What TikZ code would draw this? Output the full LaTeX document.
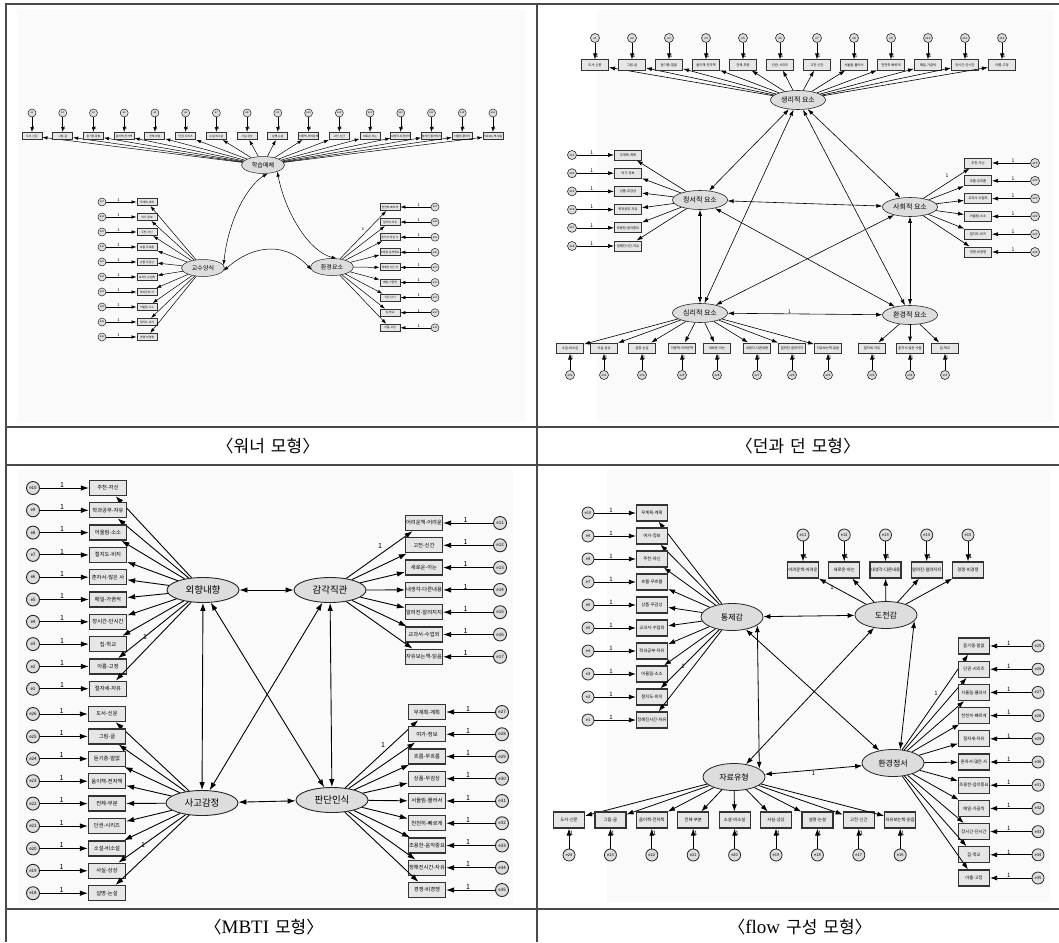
\documentclass[tikz,border=0pt]{standalone}
\usepackage{fontspec}
\setmainfont{Noto Sans CJK KR}
\newfontfamily\capserif{Liberation Serif}
\usetikzlibrary{shapes.geometric, arrows.meta, positioning}
\definecolor{FrameGray}{HTML}{4A4A4A}
\definecolor{LatFill}{HTML}{DDDDDD}
\definecolor{ObsFill}{HTML}{E6E6E6}
\definecolor{PanelBg}{HTML}{FAFAFA}
\tikzset{
  % Node styles
  latent/.style={ellipse, draw=black!85, fill=LatFill, inner sep=0pt},
  observed/.style={rectangle, draw=black!80, fill=ObsFill, inner sep=0.4pt},
  errnode/.style={circle, draw=black!85, fill=LatFill, inner sep=0pt},
  one/.style={inner sep=0.4pt},
  % Arrow styles
  loading/.style={->},
  covar/.style={<->},
  % Table styles
  tableline/.style={FrameGray, line width=1.2pt},
  captext/.style={font=\fontsize{17}{17}\selectfont, inner sep=0pt}
}

\begin{document}
\begin{tikzpicture}[x=1pt, y=-1pt]
  \useasboundingbox (0,0) rectangle (1059,942);

  % Panel backgrounds
  \fill[PanelBg] (18,10) rectangle (525,422);
  \fill[PanelBg] (597,10) rectangle (1053,422);
  \fill[PanelBg] (18,470) rectangle (513,905);
  \fill[PanelBg] (607,470) rectangle (1050,903);

  % Table frame
  \draw[tableline] (6,942) -- (6,4) -- (1059,4);
  \draw[tableline] (537,4) -- (537,942);
  \foreach \ty in {427,465,909} \draw[tableline] (6,\ty) -- (1059,\ty);

  % Captions
  \node[captext] (capwin) at (268,446) {〈워너\hspace{0.35em}모형〉};
  \node[captext] (capdunn) at (798,446) {〈던과\hspace{0.35em}던\hspace{0.35em}모형〉};
  \node[captext] (capmbti) at (264,927) {〈{\capserif\fontsize{19}{19}\selectfont MBTI}\hspace{0.35em}모형〉};
  \node[captext] (capflow) at (800,927) {〈{\capserif\fontsize{19}{19}\selectfont flow}\hspace{0.35em}구성\hspace{0.35em}모형〉};

  % ---------- Winner model ----------
  \begin{scope}[>={Latex[length=5pt,width=3.4pt]}, line width=0.5pt,
      latent/.append style={minimum width=43pt, minimum height=17pt, font=\fontsize{6}{6}\selectfont},
      observed/.append style={minimum width=20pt, minimum height=7pt, line width=0.9pt, font=\fontsize{2.8}{3}\selectfont},
      errnode/.append style={minimum size=8pt, font=\fontsize{2.5}{3}\selectfont},
      one/.append style={font=\fontsize{4}{4}\selectfont}]
    \node[latent] (med) at (263,165) {학습매체};
    \node[latent] (tea) at (203,268) {교수양식};
    \node[latent] (env) at (332,267) {환경요소};

    \foreach \lab [count=\i] in {도서-신문, 그림-글, 듣기중-말없, 움이책-전자책, 전체-부분, 단권-시리즈, 소설-비소설, 사실-상상, 설명-논설, 이중책-어려운책, 고전-신간, 새로운-아는, 내생각-다른생각, 알려진-알려지지, 서둘림-물러서, 자유보는책-읽음} {
      \node[observed] (wt\i) at ({32+30.73*(\i-1)},136) {\lab};
      \node[errnode] (wte\i) at ({32+30.73*(\i-1)},113) {e\i};
      \draw[loading] (wte\i) -- node[one, right, pos=0.7] {1} (wt\i);
      \draw[loading] (med) -- (wt\i);
    }
    \foreach \lab [count=\i] in {무계획-계획, 여가-정보, 주천-자신, 흐름-무흐름, 상품-무감상, 교과서-수업외, 학과공부-자, 어울림-소소, 절지도-비지, 경쟁-비경쟁} {
      \pgfmathtruncatemacro{\k}{16+\i}
      \node[observed] (wl\i) at (147,{202+15*(\i-1)}) {\lab};
      \node[errnode] (wle\i) at (102,{202+15*(\i-1)}) {e\k};
      \draw[loading] (wle\i) -- node[one, above, pos=0.4] {1} (wl\i);
      \draw[loading] (tea) -- (wl\i);
    }
    \foreach \lab [count=\i] in {천천히-빠르게, 절자세-자유, 혼자서-많은 사, 조용한-음악중요, 정해진시간-자, 매일-가끔씩, 시간-단시, 집-학교, 아름-고정} {
      \pgfmathtruncatemacro{\k}{26+\i}
      \node[observed] (wr\i) at (390,{207+15.1*(\i-1)}) {\lab};
      \node[errnode] (wre\i) at (435,{207+15.1*(\i-1)}) {e\k};
      \draw[loading] (wre\i) -- node[one, above, pos=0.4] {1} (wr\i);
      \draw[loading] (env) -- (wr\i);
    }
    \node[one] at (363,229) {1};

    % curved covariances
    \draw[covar] (tea.8) .. controls (229,215) and (250,184) .. (med.-62);
    \draw[covar] (med.-25) .. controls (286,215) and (310,252) .. (env.62);
    \draw[covar] (tea.-8) .. controls (255,243) and (287,243) .. (env.188);
  \end{scope}

  % ---------- Dunn and Dunn model ----------
  \begin{scope}[>={Latex[length=6pt,width=4pt]}, line width=0.6pt,
      latent/.append style={minimum width=55pt, minimum height=19pt, font=\fontsize{7}{7}\selectfont},
      observed/.append style={minimum width=27pt, minimum height=10pt, line width=1pt, font=\fontsize{3.3}{4}\selectfont},
      errnode/.append style={minimum size=9pt, font=\fontsize{3}{3}\selectfont},
      one/.append style={font=\fontsize{5}{5}\selectfont}]
    \node[latent] (phy) at (798,100) {생리적 요소};
    \node[latent] (emo) at (700,200) {정서적 요소};
    \node[latent] (soc) at (910,207) {사회적 요소};
    \node[latent] (psy) at (700,313) {심리적 요소};
    \node[latent] (envd) at (910,315) {환경적 요소};

    \foreach \lab [count=\i] in {도서-신문, 그림-글, 듣기중-말없, 움이책-전자책, 전체-부분, 단권-시리즈, 고전-신간, 서둘림-물러서, 천천히-빠르게, 매일-가끔씩, 장시간-단시간, 아름-고정} {
      \node[observed] (dt\i) at ({595+37.0*(\i-1)},65) {\lab};
      \node[errnode] (dte\i) at ({595+37.0*(\i-1)},38) {e\i};
      \draw[loading] (dte\i) -- node[one, right, pos=0.75] {1} (dt\i);
      \draw[loading] (phy) -- (dt\i);
    }
    \foreach \lab [count=\i] in {무계획-계획, 여가-정보, 상품-무감상, 학과공부-자유, 조용한-음악중요, 정해진시간-자유} {
      \pgfmathtruncatemacro{\k}{12+\i}
      \node[observed] (dl\i) at (628,{155+18.2*(\i-1)}) {\lab};
      \node[errnode] (dle\i) at (572,{155+18.2*(\i-1)}) {e\k};
      \draw[loading] (dle\i) -- node[one, above, pos=0.4] {1} (dl\i);
      \draw[loading] (emo) -- (dl\i);
    }
    \foreach \lab [count=\i] in {주천-자신, 흐름-무흐름, 교과서-수업외, 어울림-소소, 절지도-비지, 경쟁-비경쟁} {
      \pgfmathtruncatemacro{\k}{18+\i}
      \node[observed] (dr\i) at (978,{163+17.8*(\i-1)}) {\lab};
      \node[errnode] (dre\i) at (1035,{163+17.8*(\i-1)}) {e\k};
      \draw[loading] (dre\i) -- node[one, above, pos=0.45] {1} (dr\i);
      \draw[loading] (soc) -- (dr\i);
    }
    \foreach \px/\lab [count=\i] in {570/소설-비소설, 604/사실-상상, 642/설명-논설, 682/이중책-어려운책, 717/새로운-아는, 757/내생각-다른내용, 792/알려진-알려지지, 828/자유보는책-읽음} {
      \pgfmathtruncatemacro{\k}{33-\i}
      \node[observed] (db\i) at (\px,348) {\lab};
      \node[errnode] (dbe\i) at (\px,375) {e\k};
      \draw[loading] (dbe\i) -- node[one, right, pos=0.75] {1} (db\i);
      \draw[loading] (psy) -- (db\i);
    }
    \foreach \px/\lab [count=\i] in {872/절자세-자유, 910/혼자서-많은 사람, 945/집-학교} {
      \pgfmathtruncatemacro{\k}{36-\i}
      \node[observed] (dv\i) at (\px,348) {\lab};
      \node[errnode] (dve\i) at (\px,375) {e\k};
      \draw[loading] (dve\i) -- node[one, right, pos=0.75] {1} (dv\i);
      \draw[loading] (envd) -- (dv\i);
    }
    \node[one] at (947,176) {1};

    % covariances
    \draw[covar] (phy) -- (emo);
    \draw[covar] (phy) -- (psy);
    \draw[covar] (phy) -- (soc);
    \draw[covar] (phy) -- (envd);
    \draw[covar] (emo) -- (soc);
    \draw[covar] (emo) -- (psy);
    \draw[covar] (emo) -- (envd);
    \draw[covar] (soc) -- (psy);
    \draw[covar] (soc) -- (envd);
    \draw[covar] (psy) -- node[one, above, pos=0.4] {1} (envd);
  \end{scope}

  % ---------- MBTI model ----------
  \begin{scope}[>={Latex[length=8pt,width=5.5pt]}, line width=0.9pt,
      latent/.append style={minimum width=72pt, minimum height=25pt, font=\fontsize{9.5}{10}\selectfont},
      observed/.append style={minimum width=37pt, minimum height=15pt, line width=1.3pt, font=\fontsize{5.3}{6}\selectfont},
      errnode/.append style={minimum size=13pt, line width=0.9pt, font=\fontsize{4.5}{5}\selectfont},
      one/.append style={font=\fontsize{7}{7}\selectfont}]
    \node[latent] (ei) at (203,590) {외향내향};
    \node[latent] (sn) at (330,590) {감각직관};
    \node[latent] (tf) at (202,803) {사고감정};
    \node[latent] (jp) at (332,800) {판단인식};

    \foreach \lab [count=\i] in {주천-자신, 학과공부-자유, 어울림-소소, 절지도-비지, 혼자서-많은 사, 매일-가끔씩, 장시간-단시간, 집-학교, 아름-고정, 절자세-자유} {
      \pgfmathtruncatemacro{\k}{11-\i}
      \node[observed] (ml\i) at (108,{488+22.3*(\i-1)}) {\lab};
      \node[errnode] (mle\i) at (33,{488+22.3*(\i-1)}) {e\k};
      \draw[loading] (mle\i) -- node[one, above, pos=0.45] {1} (ml\i);
      \draw[loading] (ei) -- (ml\i);
    }
    \foreach \lab [count=\i] in {도서-신문, 그림-글, 듣기중-말없, 움이책-전자책, 전체-부분, 단권-시리즈, 소설-비소설, 사실-상상, 설명-논설} {
      \pgfmathtruncatemacro{\k}{27-\i}
      \node[observed] (mb\i) at (107,{714+22.4*(\i-1)}) {\lab};
      \node[errnode] (mbe\i) at (33,{714+22.4*(\i-1)}) {e\k};
      \draw[loading] (mbe\i) -- node[one, above, pos=0.45] {1} (mb\i);
      \draw[loading] (tf) -- (mb\i);
    }
    \foreach \lab [count=\i] in {어려운책-어려운, 고전-신간, 새로운-아는, 내생각-다른내용, 알려진-알려지지, 교과서-수업외, 자유보는책-읽음} {
      \pgfmathtruncatemacro{\k}{10+\i}
      \node[observed] (mr\i) at (424,{523+22.3*(\i-1)}) {\lab};
      \node[errnode] (mre\i) at (500,{523+22.3*(\i-1)}) {e\k};
      \draw[loading] (mre\i) -- node[one, above, pos=0.55] {1} (mr\i);
      \draw[loading] (sn) -- (mr\i);
    }
    \foreach \lab [count=\i] in {무계획-계획, 여가-정보, 흐름-무흐름, 상품-무감상, 서둘림-물러서, 천천히-빠르게, 조용한-음악중요, 정해진시간-자유, 경쟁-비경쟁} {
      \pgfmathtruncatemacro{\k}{26+\i}
      \node[observed] (mj\i) at (427,{712+22.25*(\i-1)}) {\lab};
      \node[errnode] (mje\i) at (502,{712+22.25*(\i-1)}) {e\k};
      \draw[loading] (mje\i) -- node[one, above, pos=0.55] {1} (mj\i);
      \draw[loading] (jp) -- (mj\i);
    }
    \node[one] at (380,546) {1};
    \node[one] at (383,745) {1};
    \node[one] at (145,637) {1};
    \node[one] at (143,845) {1};

    % covariances
    \draw[covar] (ei) -- (sn);
    \draw[covar] (ei) -- (tf);
    \draw[covar] (ei) -- (jp);
    \draw[covar] (sn) -- (tf);
    \draw[covar] (sn) -- (jp);
    \draw[covar] (tf) -- (jp);
  \end{scope}

  % ---------- flow model ----------
  \begin{scope}[>={Latex[length=7pt,width=5pt]}, line width=0.8pt,
      latent/.append style={minimum width=62pt, minimum height=27pt, font=\fontsize{8}{8}\selectfont},
      observed/.append style={minimum width=31pt, minimum height=16pt, line width=1.2pt, font=\fontsize{4.3}{5}\selectfont},
      errnode/.append style={minimum size=12pt, line width=0.8pt, font=\fontsize{4}{4}\selectfont},
      one/.append style={font=\fontsize{6}{6}\selectfont}]
    \node[latent] (ctrl) at (732,617) {통제감};
    \node[latent] (chal) at (886,615) {도전감};
    \node[latent] (data) at (734,777) {자료유형};
    \node[latent] (mood) at (893,763) {환경정서};

    \foreach \lab [count=\i] in {무계획-계획, 여가-정보, 주천-자신, 흐름-무흐름, 상품-무감상, 교과서-수업외, 학과공부-자유, 어울림-소소, 절지도-비지, 정해진시간-자유} {
      \pgfmathtruncatemacro{\k}{11-\i}
      \node[observed] (fl\i) at (652,{513+23*(\i-1)}) {\lab};
      \node[errnode] (fle\i) at (588,{513+23*(\i-1)}) {e\k};
      \draw[loading] (fle\i) -- node[one, above, pos=0.4] {1} (fl\i);
      \draw[loading] (ctrl) -- (fl\i);
    }
    \foreach \lab [count=\i] in {어려운책-어려운, 새로운-아는, 내생각-다른내용, 알려진-알려지지, 경쟁-비경쟁} {
      \pgfmathtruncatemacro{\k}{10+\i}
      \node[observed] (ft\i) at ({803+41.25*(\i-1)},570) {\lab};
      \node[errnode] (fte\i) at ({803+41.25*(\i-1)},535) {e\k};
      \draw[loading] (fte\i) -- node[one, right, pos=0.75] {1} (ft\i);
      \draw[loading] (chal) -- (ft\i);
    }
    \foreach \lab [count=\i] in {도서-신문, 그림-글, 움이책-전자책, 전체-부분, 소설-비소설, 사실-상상, 설명-논설, 고전-신간, 자유보는책-읽음} {
      \pgfmathtruncatemacro{\k}{25-\i}
      \node[observed] (fb\i) at ({569+41.4*(\i-1)},820) {\lab};
      \node[errnode] (fbe\i) at ({569+41.4*(\i-1)},855) {e\k};
      \draw[loading] (fbe\i) -- node[one, right, pos=0.75] {1} (fb\i);
      \draw[loading] (data) -- (fb\i);
    }
    \foreach \lab [count=\i] in {듣기중-말없, 단권-시리즈, 서둘림-물러서, 천천히-빠르게, 절자세-자유, 혼자서-많은 사, 조용한-음악중요, 매일-가끔씩, 장시간-단시간, 집-학교, 아름-고정} {
      \pgfmathtruncatemacro{\k}{24+\i}
      \node[observed] (fr\i) at (974,{646+23.2*(\i-1)}) {\lab};
      \node[errnode] (fre\i) at (1038,{646+23.2*(\i-1)}) {e\k};
      \draw[loading] (fre\i) -- node[one, above, pos=0.55] {1} (fr\i);
      \draw[loading] (mood) -- (fr\i);
    }
    \node[one] at (832,587) {1};
    \node[one] at (936,693) {1};
    \node[one] at (683,666) {1};

    % covariances
    \draw[covar] (ctrl) -- (chal);
    \draw[covar] (ctrl.-18) -- (data.18);
    \draw[covar] (ctrl) -- (mood);
    \draw[covar] (chal) -- (data);
    \draw[covar] (chal.-12) -- (mood.62);
    \draw[covar] (data) -- node[one, below, pos=0.5] {1} (mood);
  \end{scope}
\end{tikzpicture}
\end{document}
